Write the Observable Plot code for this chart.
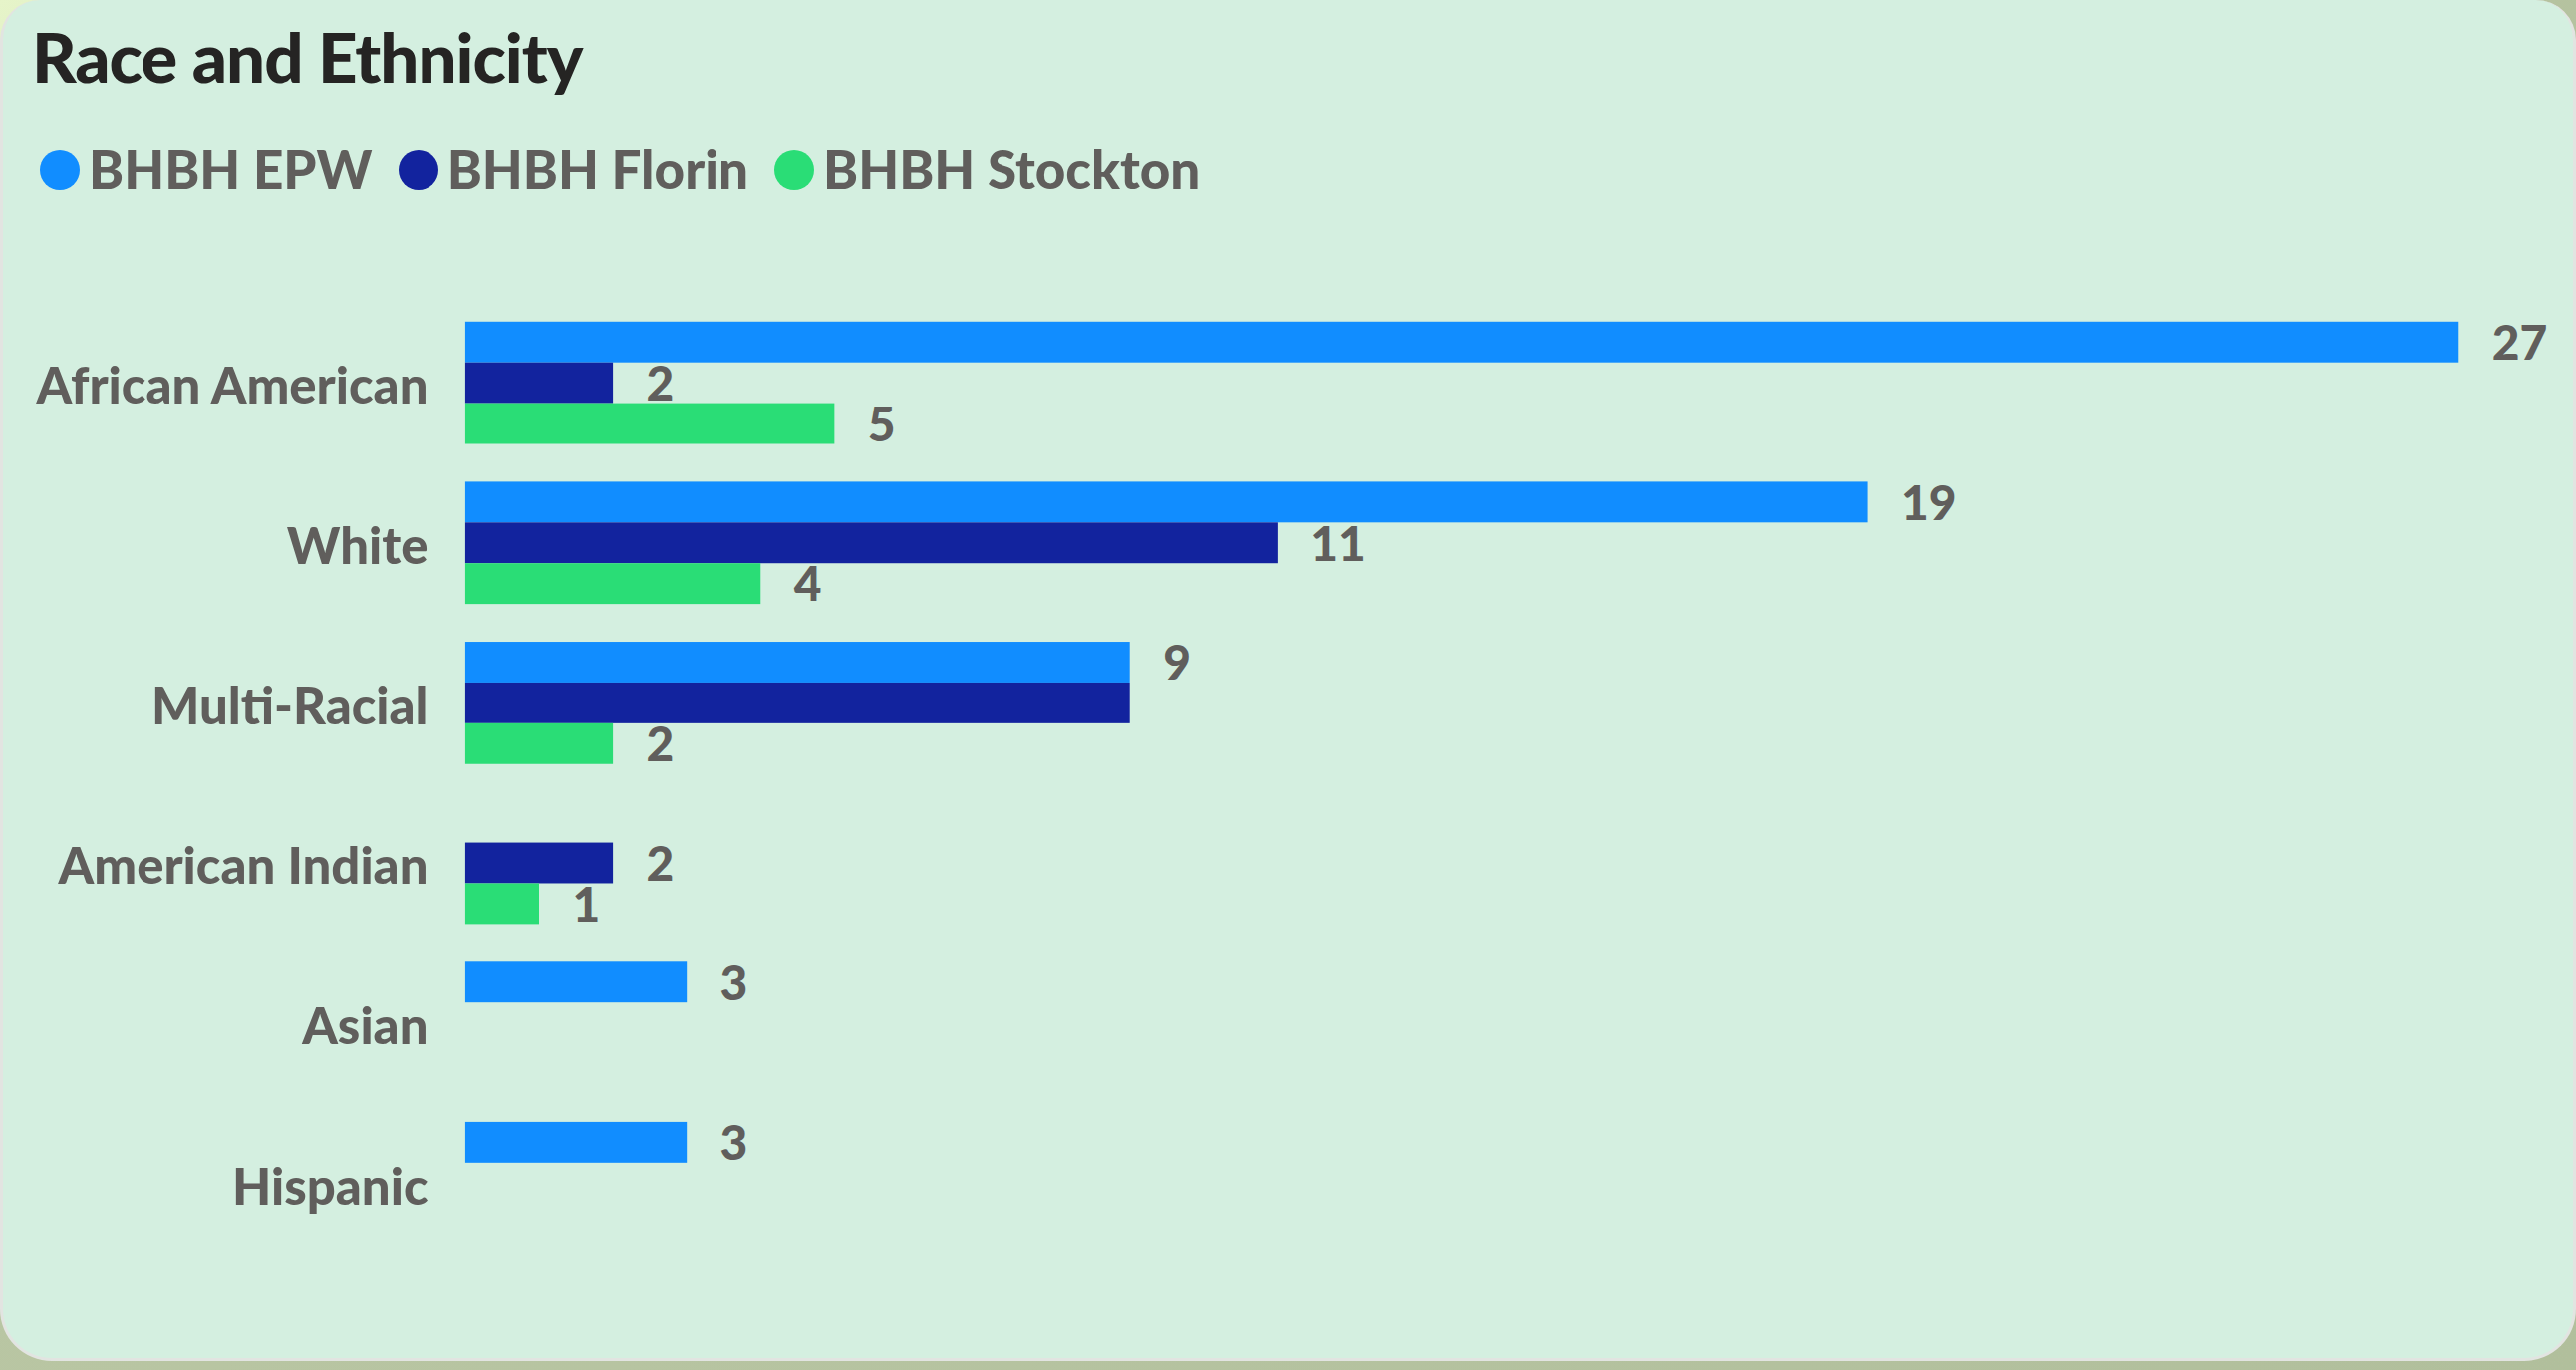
<!DOCTYPE html>
<html>
<head>
<meta charset="utf-8">
<script src="https://cdn.jsdelivr.net/npm/d3@7"></script>
<script src="https://cdn.jsdelivr.net/npm/@observablehq/plot@0.6"></script>
<style>
  html, body { margin: 0; padding: 0; }
  body {
    width: 2585px; height: 1375px; overflow: hidden; position: relative;
    background: linear-gradient(135deg, #e6f4c9 0%, #b9c6a3 30%, #b1bf9c 100%);
    font-family: Lato, "Open Sans", sans-serif;
  }
  #card {
    position: absolute; left: 0; top: 0; width: 2585px; height: 1366px;
    box-sizing: border-box; background: #d4efe0;
    border: 3px solid #e2e4e1; border-top: none;
    border-radius: 40px 40px 52px 52px;
  }
  #header { position: relative; height: 230px; }
  #title {
    position: absolute; left: 29px; top: 22px;
    font-family: Lato, sans-serif;
    font-weight: 900; font-size: 69px; line-height: 69px; color: #252423;
    letter-spacing: -1px; white-space: nowrap;
  }
  #legend {
    position: absolute; left: 37px; top: 143px; display: flex; align-items: center;
    font-family: Lato, sans-serif; font-weight: 900; font-size: 53px; line-height: 53px;
    color: #605e5c; white-space: nowrap;
  }
  .item { display: flex; align-items: center; margin-right: 26px; }
  .dot { width: 40px; height: 40px; border-radius: 50%; margin-right: 9px; margin-top: 2px; }
  #chart { position: relative; }
</style>
</head>
<body>
<div id="card">
  <div id="header">
    <div id="title">Race and Ethnicity</div>
    <div id="legend"></div>
  </div>
  <div id="chart"></div>
</div>
<script>
const categories = ["African American", "White", "Multi-Racial", "American Indian", "Asian", "Hispanic"];
const series = ["BHBH EPW", "BHBH Florin", "BHBH Stockton"];
const colors = ["#118DFF", "#12239E", "#2ADD76"];
const epwValues = [27, 19, 9, null, 3, 3];
const florinValues = [2, 11, 9, 2, null, null];
const stocktonValues = [5, 4, 2, 1, null, null];
// labels Power BI hides because they collide
const hiddenLabels = ["Multi-Racial|BHBH Florin"];

const valueSets = [epwValues, florinValues, stocktonValues];
const rows = [];
categories.forEach((c, i) => {
  series.forEach((s, j) => {
    const v = valueSets[j][i];
    if (v != null) rows.push({category: c, series: s, value: v});
  });
});
const labelRows = rows.filter(d => !hiddenLabels.includes(d.category + "|" + d.series));

// legend
const legend = document.getElementById("legend");
series.forEach((s, j) => {
  const item = document.createElement("div");
  item.className = "item";
  const dot = document.createElement("span");
  dot.className = "dot";
  dot.style.background = colors[j];
  const label = document.createElement("span");
  label.textContent = s;
  item.appendChild(dot);
  item.appendChild(label);
  legend.appendChild(item);
});

const chart = Plot.plot({
  width: 2585,
  height: 1130,
  marginTop: 72,
  marginBottom: 88,
  marginLeft: 465,
  marginRight: 115,
  style: {background: "transparent", fontFamily: "Lato, sans-serif", color: "#605e5c", overflow: "visible"},
  x: {domain: [0, 27], axis: null},
  y: {domain: series, padding: 0, axis: null},
  fy: {domain: categories, paddingInner: 0.228, paddingOuter: 0.114, axis: null},
  color: {domain: series, range: colors},
  marks: [
    Plot.barX(rows, {x: "value", y: "series", fy: "category", fill: "series"}),
    Plot.text(labelRows, {
      x: "value", y: "series", fy: "category", text: d => String(d.value),
      dx: 33, dy: 2, textAnchor: "start", fontSize: 48, fontWeight: 900, fill: "#605e5c"
    }),
    Plot.axisFy({anchor: "left", tickSize: 0, tickPadding: 38, dy: 5, fontSize: 51, fontWeight: 900, label: null, fill: "#605e5c"})
  ]
});
document.getElementById("chart").appendChild(chart);
</script>
</body>
</html>
